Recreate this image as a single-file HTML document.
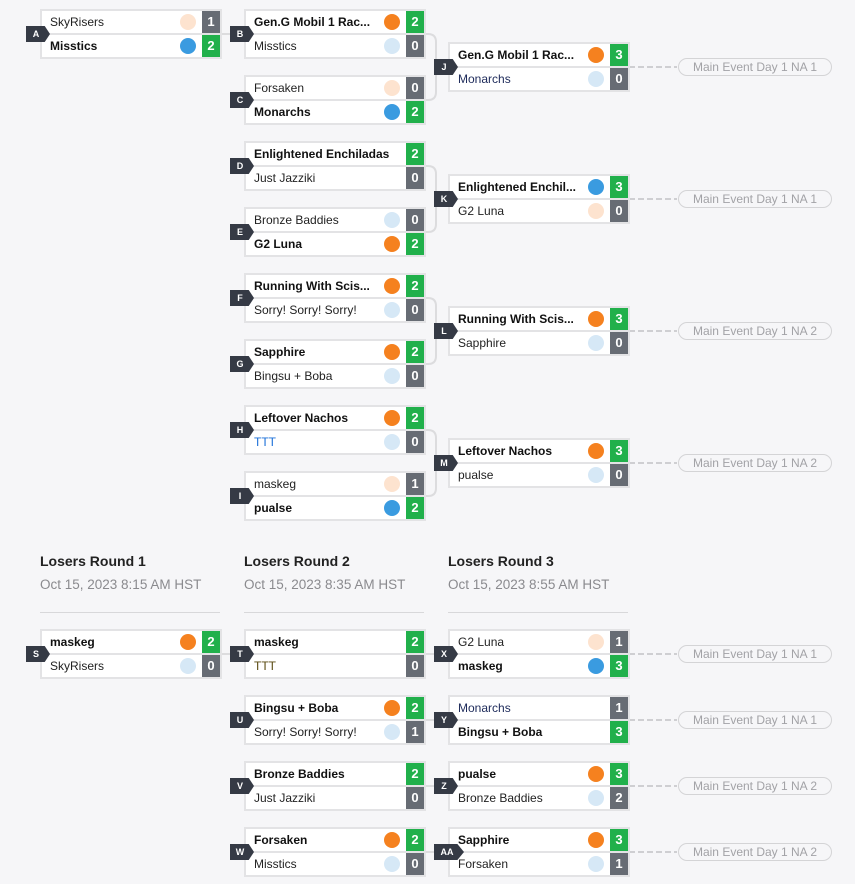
<!DOCTYPE html>
<html><head><meta charset="utf-8"><style>
body{margin:0;width:855px;height:884px;background:#f6f6f8;font-family:"Liberation Sans",sans-serif;position:relative;overflow:hidden}
.m{position:absolute;width:178px;height:46px;border:2px solid #e3e3e5;background:#e3e3e5}
.r{position:absolute;left:0;width:178px;height:22px;background:#fff;font-size:12px;color:#222;line-height:22px}
.r span.n{position:absolute;left:8px;white-space:nowrap}
.r.w span.n{font-weight:bold;color:#111}
.c{position:absolute;right:24px;top:3px;width:16px;height:16px;border-radius:50%}
.s{position:absolute;right:0;top:0;width:18px;height:22px;color:#fff;font-weight:bold;font-size:13px;text-align:center;line-height:22px;background:#676c74}
.s.g{background:#21b04b}
.t{position:absolute;height:16px;background:#353a45;color:#fff;font-weight:bold;font-size:9px;line-height:16px;text-align:center;clip-path:polygon(0 0,78% 0,100% 50%,78% 100%,0 100%)}
.p{position:absolute;width:152px;height:16px;border:1px solid #d4d4d6;border-radius:9px;color:#a2a2a6;font-size:12px;text-align:center;line-height:16px;background:#f6f6f8}
.h{position:absolute;font-weight:bold;font-size:14px;color:#222}
.d{position:absolute;font-size:13.5px;color:#8a8a8e}
.hr{position:absolute;height:1px;width:180px;background:#d8d8da}
svg{position:absolute;left:0;top:0}
</style></head><body>
<svg width="855" height="884" id="sv"></svg>
<div id="root"></div>
<div class="h" style="left:40px;top:553px">Losers Round 1</div>
<div class="h" style="left:244px;top:553px">Losers Round 2</div>
<div class="h" style="left:448px;top:553px">Losers Round 3</div>
<div class="d" style="left:40px;top:577px">Oct 15, 2023 8:15 AM HST</div>
<div class="d" style="left:244px;top:577px">Oct 15, 2023 8:35 AM HST</div>
<div class="d" style="left:448px;top:577px">Oct 15, 2023 8:55 AM HST</div>
<div class="hr" style="left:40px;top:612px"></div>
<div class="hr" style="left:244px;top:612px"></div>
<div class="hr" style="left:448px;top:612px"></div>
<script>
var O='#f5811f',B='#3a9be0',P='#fde3cf',L='#d6e8f6';
var M=[
['A',40,9,['SkyRisers',P,1,0],['Misstics',B,2,1]],
['B',244,9,['Gen.G Mobil 1 Rac...',O,2,1],['Misstics',L,0,0]],
['C',244,75,['Forsaken',P,0,0],['Monarchs',B,2,1]],
['J',448,42,['Gen.G Mobil 1 Rac...',O,3,1],['Monarchs',L,0,0,'#1d2a5a']],
['D',244,141,['Enlightened Enchiladas',null,2,1],['Just Jazziki',null,0,0]],
['E',244,207,['Bronze Baddies',L,0,0],['G2 Luna',O,2,1]],
['K',448,174,['Enlightened Enchil...',B,3,1],['G2 Luna',P,0,0]],
['F',244,273,['Running With Scis...',O,2,1],['Sorry! Sorry! Sorry!',L,0,0]],
['G',244,339,['Sapphire',O,2,1],['Bingsu + Boba',L,0,0]],
['L',448,306,['Running With Scis...',O,3,1],['Sapphire',L,0,0]],
['H',244,405,['Leftover Nachos',O,2,1],['TTT',L,0,0,'#1a6fd8']],
['I',244,471,['maskeg',P,1,0],['pualse',B,2,1]],
['M',448,438,['Leftover Nachos',O,3,1],['pualse',L,0,0]],
['S',40,629,['maskeg',O,2,1],['SkyRisers',L,0,0]],
['T',244,629,['maskeg',null,2,1],['TTT',null,0,0,'#5a4a10']],
['X',448,629,['G2 Luna',P,1,0],['maskeg',B,3,1]],
['U',244,695,['Bingsu + Boba',O,2,1],['Sorry! Sorry! Sorry!',L,1,0]],
['Y',448,695,['Monarchs',null,1,0,'#1d2a5a'],['Bingsu + Boba',null,3,1]],
['V',244,761,['Bronze Baddies',null,2,1],['Just Jazziki',null,0,0]],
['Z',448,761,['pualse',O,3,1],['Bronze Baddies',L,2,0]],
['W',244,827,['Forsaken',O,2,1],['Misstics',L,0,0]],
['AA',448,827,['Sapphire',O,3,1],['Forsaken',L,1,0]]
];
var h='';
M.forEach(function(m){
 h+='<div class="m" style="left:'+m[1]+'px;top:'+m[2]+'px">';
 [m[3],m[4]].forEach(function(r,i){
  h+='<div class="r'+(r[3]?' w':'')+'" style="top:'+(i*24)+'px"><span class="n"'+(r[4]?' style="color:'+r[4]+'"':'')+'>'+r[0]+'</span>'+(r[1]?'<div class="c" style="background:'+r[1]+'"></div>':'')+'<div class="s'+(r[3]?' g':'')+'">'+r[2]+'</div></div>';
 });
 h+='</div>';
 var w=m[0].length>1?30:24;
 h+='<div class="t" style="left:'+(m[1]-14)+'px;top:'+(m[2]+17)+'px;width:'+w+'px;padding-right:4px;box-sizing:border-box">'+m[0]+'</div>';
});
var pills=[[42,'Main Event Day 1 NA 1'],[174,'Main Event Day 1 NA 1'],[306,'Main Event Day 1 NA 2'],[438,'Main Event Day 1 NA 2'],[629,'Main Event Day 1 NA 1'],[695,'Main Event Day 1 NA 1'],[761,'Main Event Day 1 NA 2'],[827,'Main Event Day 1 NA 2']];
var s='';
pills.forEach(function(p){
 h+='<div class="p" style="left:678px;top:'+(p[0]+16)+'px">'+p[1]+'</div>';
 s+='<line x1="629" y1="'+(p[0]+25)+'" x2="677" y2="'+(p[0]+25)+'" stroke="#cfcfd2" stroke-width="2" stroke-dasharray="6,3"/>';
});
document.getElementById('root').innerHTML=h;
function hl(x1,x2,y){s+='<line x1="'+x1+'" y1="'+y+'" x2="'+x2+'" y2="'+y+'" stroke="#dcdcde" stroke-width="2"/>';}
hl(222,244,34);
[[9,75],[141,207],[273,339],[405,471]].forEach(function(b){
 var y1=b[0]+25,y2=b[1]+25;
 s+='<path d="M424 '+y1+' H428 Q436 '+y1+' 436 '+(y1+8)+' V'+(y2-8)+' Q436 '+y2+' 428 '+y2+' H424" fill="none" stroke="#dcdcde" stroke-width="2"/>';
 hl(436,448,(y1+y2)/2);
});
hl(222,244,654);hl(426,448,654);hl(426,448,720);hl(426,448,786);hl(426,448,852);
document.getElementById('sv').innerHTML=s;
</script>
</body></html>
